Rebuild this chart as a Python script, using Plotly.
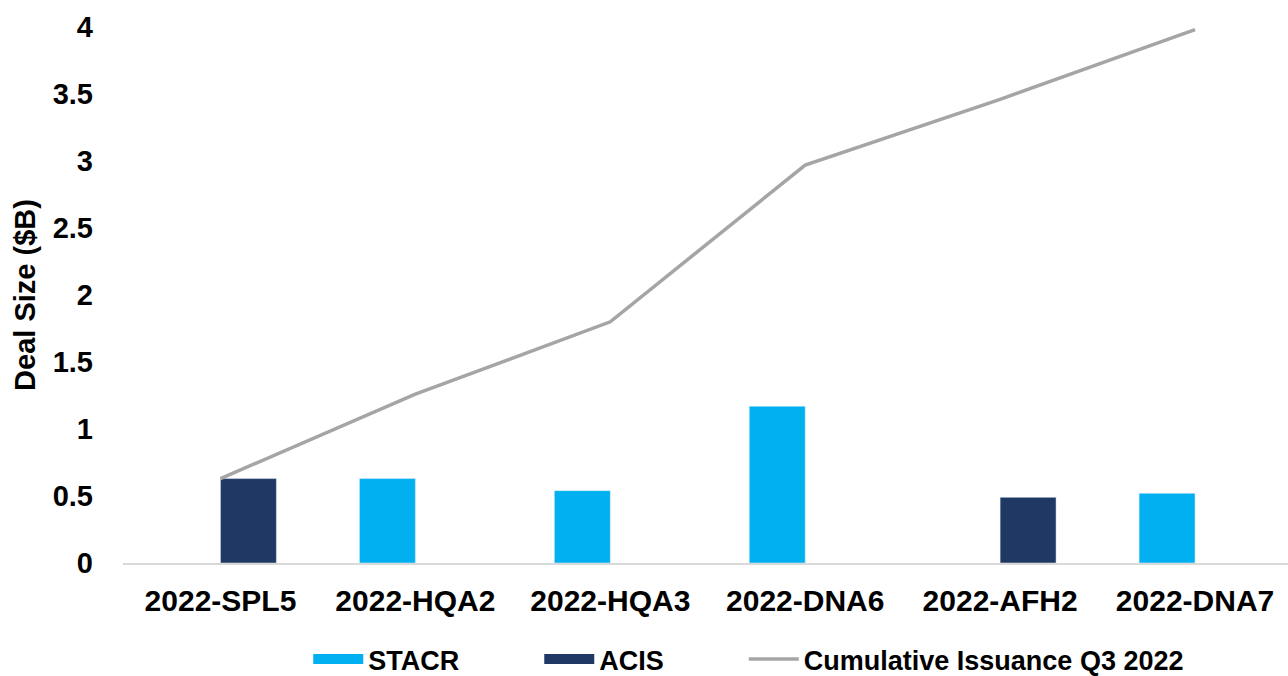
import plotly.graph_objects as go

categories = ["2022-SPL5", "2022-HQA2", "2022-HQA3", "2022-DNA6", "2022-AFH2", "2022-DNA7"]
stacr = [None, 0.63, 0.54, 1.17, None, 0.52]
acis = [0.63, None, None, None, 0.49, None]
cumulative = [0.63, 1.26, 1.80, 2.97, 3.46, 3.98]
y_ticks = [0, 0.5, 1, 1.5, 2, 2.5, 3, 3.5, 4]

C_STACR = "#00B0F0"
C_ACIS = "#1F3864"
C_LINE = "#A5A5A5"
FONT = "Liberation Sans"
PAD = "\u00a0" * 10

fig = go.Figure()
fig.add_trace(go.Bar(x=categories, y=stacr, name="STACR", marker_color=C_STACR, showlegend=False))
fig.add_trace(go.Bar(x=categories, y=acis, name="ACIS", marker_color=C_ACIS, showlegend=False))
fig.add_trace(go.Scatter(x=categories, y=cumulative, mode="lines", name="Cumulative Issuance Q3 2022",
                         line=dict(color=C_LINE, width=3.5), showlegend=False))
# legend entries
fig.add_trace(go.Scatter(x=[None], y=[None], mode="lines", name="STACR" + PAD, line=dict(color=C_STACR, width=15)))
fig.add_trace(go.Scatter(x=[None], y=[None], mode="lines", name="ACIS" + PAD, line=dict(color=C_ACIS, width=15)))
fig.add_trace(go.Scatter(x=[None], y=[None], mode="lines", name="Cumulative Issuance Q3 2022",
                         line=dict(color=C_LINE, width=3.5)))

fig.update_layout(
    width=1288, height=676,
    margin=dict(l=123, r=0, t=27, b=113, autoexpand=False),
    plot_bgcolor="white", paper_bgcolor="white",
    barmode="group", bargap=0.426, bargroupgap=0,
    font=dict(family=FONT, size=28, color="black", weight="bold"),
    legend=dict(orientation="h", x=0.159, xanchor="left", y=-0.18, yanchor="middle",
                itemwidth=50, tracegroupgap=0,
                font=dict(family=FONT, size=27, color="black", weight="bold")),
    xaxis=dict(type="category", range=[-0.5, -0.5 + 1165.5 / 195], showgrid=False,
               showline=True, linecolor="#D9D9D9", linewidth=2, ticks="", ticklabelstandoff=10,
               tickfont=dict(family=FONT, size=30, color="black", weight="bold")),
    yaxis=dict(range=[0, 4], tickvals=y_ticks, ticktext=[f"{v:g}" for v in y_ticks],
               showgrid=False, zeroline=False, showline=False, ticks="", ticklabelstandoff=29,
               tickfont=dict(family=FONT, size=29, color="black", weight="bold"),
               title=dict(text="Deal Size ($B)", standoff=8,
                          font=dict(family=FONT, size=29, color="black", weight="bold"))),
)

fig.write_html("out.html")
